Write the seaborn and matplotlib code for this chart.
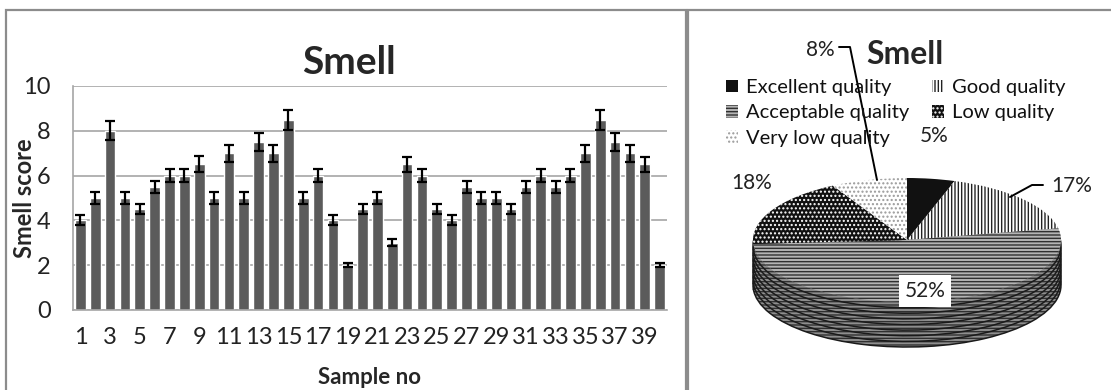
import matplotlib
matplotlib.use("Agg")
import matplotlib.pyplot as plt
import matplotlib.patches as mpatches
from matplotlib.lines import Line2D
import seaborn as sns
import pandas as pd

# ---- data -------------------------------------------------------------
samples = [str(i) for i in range(1, 41)]
smell_score = [4.0, 5.0, 8.0, 5.0, 4.5, 5.5, 6.0, 6.0, 6.5, 5.0,
               7.0, 5.0, 7.5, 7.0, 8.5, 5.0, 6.0, 4.0, 2.0, 4.5,
               5.0, 3.0, 6.5, 6.0, 4.5, 4.0, 5.5, 5.0, 5.0, 4.5,
               5.5, 6.0, 5.5, 6.0, 7.0, 8.5, 7.5, 7.0, 6.5, 2.0]
score_error = [0.22, 0.25, 0.42, 0.25, 0.23, 0.28, 0.30, 0.30, 0.36, 0.25,
               0.38, 0.25, 0.38, 0.38, 0.45, 0.25, 0.30, 0.22, 0.10, 0.23,
               0.25, 0.15, 0.35, 0.30, 0.23, 0.22, 0.28, 0.25, 0.25, 0.23,
               0.28, 0.30, 0.28, 0.30, 0.38, 0.45, 0.38, 0.38, 0.35, 0.10]

quality_labels = ["Excellent quality", "Good quality", "Acceptable quality",
                  "Low quality", "Very low quality"]
quality_share = [5, 17, 52, 18, 8]

# ---- style ------------------------------------------------------------
sns.set_theme(style="white")
plt.rcParams["font.family"] = ["Lato", "DejaVu Sans"]
plt.rcParams["hatch.linewidth"] = 1.0

W, H = 1111, 390
fig = plt.figure(figsize=(W / 100, H / 100), dpi=100)


def fx(px):
    return px / W


def fy(py):
    return 1 - py / H


# panel frames
for x0, x1 in [(6, 686), (688, 1125)]:
    fig.add_artist(mpatches.Rectangle(
        (fx(x0), fy(400)), fx(x1) - fx(x0), fy(10) - fy(400),
        transform=fig.transFigure, fill=False,
        edgecolor="#8c8c8c", linewidth=1.6))

# ---- bar chart --------------------------------------------------------
ax = fig.add_axes([fx(73), fy(310), fx(667) - fx(73), fy(86) - fy(310)])
df = pd.DataFrame({"Sample": samples, "Score": smell_score})
sns.barplot(data=df, x="Sample", y="Score", color="#5b5b5b", saturation=1,
            width=0.72, errorbar=None, ax=ax, zorder=2)
ax.errorbar(range(len(samples)), smell_score, yerr=score_error, fmt="none",
            ecolor="black", elinewidth=1.6, capsize=3.5, capthick=1.6, zorder=3)
ax.set_ylim(0, 10)
ax.set_yticks(range(0, 11, 2))
ax.set_xlim(-0.5, len(samples) - 0.5)
ax.set_xticks(range(len(samples)))
ax.set_xticklabels([s if i % 2 == 0 else "" for i, s in enumerate(samples)])
ax.yaxis.grid(True, color="#a6a6a6", linewidth=1.2, linestyle="-", zorder=0)
ax.set_axisbelow(True)
ax.tick_params(axis="both", length=0, labelsize=17, colors="#222222")
ax.tick_params(axis="y", pad=16)
ax.tick_params(axis="x", pad=12)
for side in ("top", "right"):
    ax.spines[side].set_visible(False)
for side in ("left", "bottom"):
    ax.spines[side].set_color("#a6a6a6")
    ax.spines[side].set_linewidth(1.2)
ax.set_ylabel("Smell score", fontsize=17, fontweight="bold", va="center")
ax.yaxis.set_label_coords((25 - 73) / 594, 0.5)
ax.set_xlabel("Sample no", fontsize=16, fontweight="bold", va="center")
ax.xaxis.set_label_coords(0.5, (310 - 378) / 224)
fig.text(fx(349), fy(62), "Smell", fontsize=28, fontweight="bold",
         ha="center", va="center")

# ---- 3D-looking pie ---------------------------------------------------
cx, cy, rx, ry = 907, 240, 154, 62
depth = 45
ax2 = fig.add_axes([fx(690), fy(390), fx(1111) - fx(690), fy(12) - fy(390)])

top_styles = [
    dict(fc="#111111", ec="#111111", hatch=None),
    dict(fc="white", ec="#222222", hatch="|||||"),
    dict(fc="#b4b4b4", ec="#303030", hatch="-----"),
    dict(fc="#111111", ec="white", hatch="...."),
    dict(fc="white", ec="#9a9a9a", hatch="...."),
]
side_fc = ["#111111", "#9a9a9a", "#8e8e8e", "#111111", "#d0d0d0"]


def style_wedges(wedges, styles, fcs=None):
    for i, w in enumerate(wedges):
        st = styles[i]
        w.set_facecolor(fcs[i] if fcs else st["fc"])
        w.set_edgecolor(st["ec"])
        w.set_hatch(st["hatch"])
        w.set_linewidth(0)


nlayers = 8
for k in range(nlayers, 0, -1):
    off = depth / ry * k / nlayers
    wedges, _ = ax2.pie(quality_share, startangle=90, counterclock=False,
                        radius=1, center=(0, -off))
    style_wedges(wedges, top_styles, side_fc)
    rims, _ = ax2.pie(quality_share, startangle=90, counterclock=False,
                      radius=1, center=(0, -off),
                      wedgeprops=dict(fill=False, edgecolor="#1a1a1a",
                                      linewidth=1.1))

wedges, _ = ax2.pie(quality_share, startangle=90, counterclock=False,
                    radius=1, center=(0, 0))
style_wedges(wedges, top_styles)

ax2.set_aspect("auto")
ax2.set_xlim((690 - cx) / rx, (1111 - cx) / rx)
ax2.set_ylim((cy - 390) / ry, (cy - 12) / ry)
ax2.axis("off")

# legend (row-wise order across two columns)
handles = [mpatches.Patch(facecolor=st["fc"], edgecolor=st["ec"],
                          hatch=st["hatch"], linewidth=0)
           for st in top_styles]
order = [0, 2, 4, 1, 3]
fig.legend([handles[i] for i in order], [quality_labels[i] for i in order],
           ncol=2, loc="upper left", bbox_to_anchor=(fx(726), fy(79)),
           frameon=False, fontsize=14.5, handlelength=0.6, handleheight=0.6,
           handletextpad=0.4, labelspacing=0.42, columnspacing=1.1,
           borderaxespad=0, borderpad=0, labelcolor="#111111")

fig.text(fx(905), fy(54), "Smell", fontsize=23, fontweight="bold",
         ha="center", va="center")

# slice value labels
pct = [f"{v}%" for v in quality_share]
lab_fs = 15
fig.text(fx(934), fy(136), pct[0], fontsize=lab_fs, ha="center", va="center",
         color="#222222")
fig.text(fx(1072), fy(186), pct[1], fontsize=lab_fs, ha="center", va="center",
         color="#222222")
fig.text(fx(925), fy(291), pct[2], fontsize=lab_fs, ha="center", va="center",
         color="#222222",
         bbox=dict(facecolor="white", edgecolor="none", pad=4))
fig.text(fx(752), fy(183), pct[3], fontsize=lab_fs, ha="center", va="center",
         color="#222222")
fig.text(fx(835), fy(50), pct[4], fontsize=lab_fs, ha="right", va="center",
         color="#222222")

# leader lines
fig.add_artist(Line2D([fx(839), fx(850), fx(877)], [fy(47), fy(47), fy(180)],
                      transform=fig.transFigure, color="black", linewidth=1.4))
fig.add_artist(Line2D([fx(1043), fx(1032), fx(1010)], [fy(185), fy(185), fy(197)],
                      transform=fig.transFigure, color="black", linewidth=1.4))

fig.savefig("out.png", dpi=100)
